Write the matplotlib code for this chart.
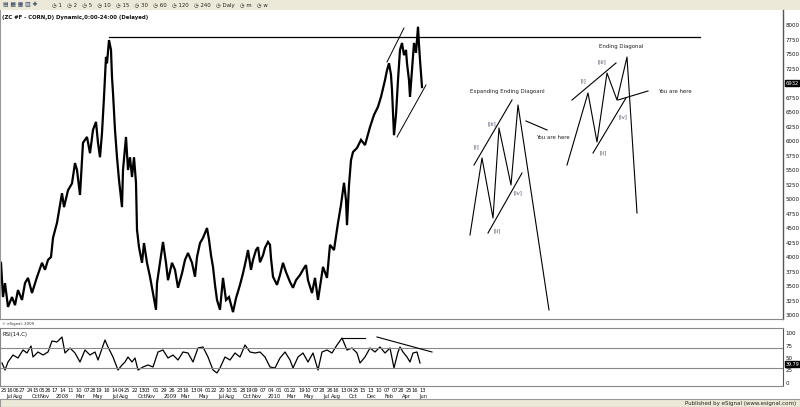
import matplotlib
matplotlib.use("Agg")
import matplotlib.pyplot as plt
import matplotlib.transforms as mtransforms
import pandas as pd

# ---- data (time index ~ bar position, price in eSignal points) ----
price_t = [1, 3, 5, 8, 12, 15, 18, 22, 25, 28, 32, 37, 42, 45, 48, 51, 53, 57, 62, 64,
           68, 72, 75, 77, 80, 83, 87, 90, 93, 96, 98, 100, 102, 104, 106, 107, 109, 111, 112, 113,
           115, 117, 119, 122, 123, 126, 128, 130, 132, 134, 136, 137, 139, 142, 144, 147, 150, 153, 156, 157,
           160, 163, 166, 168, 172, 175, 178, 182, 185, 188, 192, 195, 197, 200, 203, 207, 209, 211, 213, 215,
           217, 220, 223, 226, 229, 233, 236, 240, 243, 246, 248, 251, 253, 256, 258, 260, 263, 265, 268, 270,
           271, 273, 277, 280, 283, 286, 290, 293, 296, 300, 304, 306, 308, 312, 315, 318, 321, 323, 327, 330,
           334, 338, 341, 344, 346, 347, 349, 351, 353, 357, 361, 365, 370, 374, 378, 381, 385, 387, 389, 391,
           392, 394, 396, 398, 400, 402, 404, 406, 407, 409, 410, 412, 414, 416, 418, 419, 420, 422]
price_v = [3900, 3310, 3550, 3140, 3310, 3170, 3430, 3260, 3550, 3640, 3380, 3655, 3900, 3780, 3950, 4000, 4330, 4590, 5100, 4860,
           5150, 5270, 5620, 5500, 5070, 5970, 6070, 5790, 6190, 6330, 5970, 5720, 6140, 6760, 7450, 7340, 7740, 7570, 7100, 6830,
           6190, 5720, 5330, 4860, 5500, 6070, 5500, 5720, 5380, 5720, 5280, 4470, 4170, 3900, 4240, 3900, 3660, 3380, 3090, 3550,
           3900, 4260, 3900, 3600, 3900, 3780, 3470, 3720, 3950, 4070, 3900, 3660, 4000, 4240, 4330, 4500, 4300, 4030, 3830, 3520,
           3260, 3090, 3640, 3260, 3310, 3050, 3290, 3520, 3720, 3950, 4120, 3780, 3950, 4120, 4170, 3910, 4030, 4160, 4260, 4210,
           3980, 3660, 3520, 3690, 3900, 3740, 3570, 3470, 3600, 3690, 3810, 3860, 3600, 3380, 3640, 3260, 3600, 3830, 3640, 4210,
           4120, 4590, 4900, 5280, 4980, 4550, 5240, 5670, 5810, 5880, 6020, 5930, 6240, 6450, 6590, 6760, 7050, 7220, 7340, 7140,
           6880, 6100, 6450, 7050, 7570, 7690, 7480, 7570, 7340, 7050, 6760, 7220, 7690, 7520, 7970, 7660, 7400, 6930]

rsi_t = [2, 5, 8, 13, 18, 23, 27, 31, 33, 38, 43, 48, 52, 57, 62, 65, 70, 75, 80, 85,
         90, 95, 98, 105, 108, 113, 118, 122, 125, 128, 132, 135, 138, 143, 148, 153, 158, 163, 168, 173,
         178, 183, 188, 193, 198, 203, 208, 213, 217, 220, 225, 230, 235, 240, 245, 250, 255, 260, 265, 270,
         275, 280, 285, 290, 293, 298, 303, 308, 313, 318, 322, 327, 332, 337, 342, 347, 352, 357, 360, 365,
         370, 375, 380, 385, 390, 394, 398, 400, 403, 407, 410, 413, 417, 420]
rsi_v = [40, 26, 42, 56, 50, 66, 60, 74, 52, 62, 56, 62, 84, 82, 92, 60, 70, 60, 42, 66,
         56, 62, 46, 86, 72, 52, 26, 36, 42, 52, 42, 50, 26, 32, 36, 32, 62, 66, 50, 56,
         46, 62, 60, 42, 70, 72, 52, 26, 20, 30, 52, 46, 60, 52, 76, 62, 60, 62, 52, 32,
         30, 50, 62, 46, 30, 52, 60, 42, 60, 26, 62, 66, 60, 76, 90, 66, 70, 60, 40, 52,
         70, 62, 72, 60, 70, 30, 62, 72, 62, 52, 42, 60, 62, 40]

# hand drawn wave sketches (time index, price)
exp_t = [470, 482, 493, 499, 511, 518, 549]
exp_v = [4380, 5707, 4673, 6224, 5242, 6621, 3087]
end_t = [567, 588, 597, 607, 617, 627, 637]
end_v = [5586, 6828, 5983, 7172, 6707, 7448, 4759]

day_dates = ["2007-06-25", "2007-07-16", "2007-08-06", "2007-08-27", "2007-09-24", "2007-10-15", "2007-11-05",
             "2007-11-26", "2007-12-17", "2008-01-14", "2008-02-11", "2008-03-10", "2008-04-07", "2008-04-28",
             "2008-05-19", "2008-06-16", "2008-07-14", "2008-08-04", "2008-08-25", "2008-09-22", "2008-10-13",
             "2008-11-03", "2008-12-01", "2008-12-29", "2009-01-26", "2009-02-23", "2009-03-16", "2009-04-13",
             "2009-05-04", "2009-06-01", "2009-06-22", "2009-07-20", "2009-08-10", "2009-08-31", "2009-09-28",
             "2009-10-19", "2009-11-09", "2009-12-07", "2010-01-04", "2010-02-01", "2010-03-01", "2010-03-22",
             "2010-04-19", "2010-05-10", "2010-06-07", "2010-06-28", "2010-07-26", "2010-08-16", "2010-09-13",
             "2010-10-04", "2010-10-25", "2010-11-15", "2010-12-13", "2011-01-10", "2011-02-07", "2011-03-07",
             "2011-03-28", "2011-04-25", "2011-05-16", "2011-06-13"]
month_dates = ["2007-07-15", "2007-08-15", "2007-10-15", "2007-11-15", "2008-01-15", "2008-03-15", "2008-05-15",
               "2008-07-15", "2008-08-15", "2008-10-15", "2008-11-15", "2009-01-20", "2009-03-15", "2009-05-15",
               "2009-07-15", "2009-08-15", "2009-10-15", "2009-11-15", "2010-01-15", "2010-03-15", "2010-05-15",
               "2010-07-15", "2010-08-15", "2010-10-15", "2010-12-15", "2011-02-15", "2011-04-15", "2011-06-15"]
month_names = ["Jul", "Aug", "Oct", "Nov", "2008", "Mar", "May", "Jul", "Aug", "Oct", "Nov", "2009", "Mar", "May",
               "Jul", "Aug", "Oct", "Nov", "2010", "Mar", "May", "Jul", "Aug", "Oct", "Dec", "Feb", "Apr", "Jun"]


def date_pos(dates):
    # date -> time index (about 0.29 per calendar day)
    d = pd.to_datetime(dates)
    return 271 + (d - pd.Timestamp("2010-01-04")).days * 0.2895


def py2p(y):
    return 8000 - (y - 25) * 17.24


W, H = 800, 407
fig = plt.figure(figsize=(8, 4.07), dpi=100)
fig.patch.set_facecolor("white")
fs = 3.9
tk = 4.0

# toolbar
tb = fig.add_axes([0, 1 - 10 / H, 1, 10 / H])
tb.set_facecolor("#ece9d8")
tb.set_xticks([]); tb.set_yticks([])
for s in tb.spines.values():
    s.set_visible(False)
tb.text(0.004, 0.5, "▤ ▦ ▦ ▥ ✚", transform=tb.transAxes, fontsize=4.2, va="center", color="#334466")
tb.text(0.065, 0.5, "◷ 1   ◷ 2   ◷ 5   ◷ 10   ◷ 15   ◷ 30   ◷ 60   ◷ 120   ◷ 240   ◷ Daly   ◷ m   ◷ w",
        transform=tb.transAxes, fontsize=3.9, va="center", color="#222222")

# price panel
ax = fig.add_axes([0, 1 - 319 / H, 783 / W, 309 / H])
ax.set_xlim(0, 783)
ax.set_ylim(py2p(319), py2p(10))
ax.plot(price_t, price_v, color="black", lw=1.6, solid_joinstyle="miter")

# resistance and trend lines on price
ax.plot([109, 700], [7793, 7793], color="black", lw=0.9)
ax.plot([387, 404], [7362, 7948], color="black", lw=0.7)
ax.plot([397, 426], [6069, 6966], color="black", lw=0.7)

# expanding ending diagonal sketch
ax.plot(exp_t, exp_v, color="black", lw=0.8)
ax.plot([474, 512], [5586, 6707], color="black", lw=0.8)
ax.plot([488, 522], [4414, 5448], color="black", lw=0.8)
ax.plot([526, 547], [6345, 6190], color="black", lw=0.8)
ax.text(507, 6845, "Expanding Ending Diagoanl", fontsize=fs, ha="center", va="center", color="#222222")
ax.text(553, 6069, "You are here", fontsize=fs, ha="center", va="center", color="#222222")
lab_c = "#5a4a6a"
ax.text(476, 5897, "[i]", fontsize=fs, ha="center", va="center", color=lab_c)
ax.text(492, 6293, "[iii]", fontsize=fs, ha="center", va="center", color=lab_c)
ax.text(518, 5104, "[iv]", fontsize=fs, ha="center", va="center", color=lab_c)
ax.text(497, 4449, "[ii]", fontsize=fs, ha="center", va="center", color=lab_c)

# ending diagonal sketch
ax.plot(end_t, end_v, color="black", lw=0.8)
ax.plot([572, 616], [6707, 7345], color="black", lw=0.8)
ax.plot([593, 626], [5793, 6742], color="black", lw=0.8)
ax.plot([618, 648], [6707, 6862], color="black", lw=0.8)
ax.text(621, 7621, "Ending Diagonal", fontsize=fs, ha="center", va="center", color="#222222")
ax.text(658, 6862, "You are here", fontsize=fs, ha="left", va="center", color="#222222")
ax.text(583, 7034, "[i]", fontsize=fs, ha="center", va="center", color=lab_c)
ax.text(602, 7362, "[iii]", fontsize=fs, ha="center", va="center", color=lab_c)
ax.text(623, 6414, "[iv]", fontsize=fs, ha="center", va="center", color=lab_c)
ax.text(603, 5793, "[ii]", fontsize=fs, ha="center", va="center", color=lab_c)

ax.text(0.002, 0.985, "(ZC #F - CORN,D) Dynamic,0:00-24:00 (Delayed)", transform=ax.transAxes,
        fontsize=3.9, va="top", ha="left", color="#111111", fontweight="bold")

ax.yaxis.tick_right()
ax.set_yticks([v for v in range(3000, 8001, 250) if v != 7000])
ax.tick_params(axis="y", labelsize=tk, length=0, pad=2, colors="#111111")
ax.set_xticks([])
for k in ["top", "bottom"]:
    ax.spines[k].set_visible(False)
ax.spines["left"].set_color("#999999")
ax.spines["right"].set_color("#555555")
ax.spines["right"].set_linewidth(1.0)
ytr = mtransforms.blended_transform_factory(ax.transAxes, ax.transData)
ax.text(1.003, 7000, "6932", transform=ytr, fontsize=3.8, color="white", va="center", ha="left",
        bbox=dict(boxstyle="square,pad=0.1", fc="black", ec="black"))

# copyright strip
fig.text(2 / W, 1 - 324 / H, "© eSignal, 2009", fontsize=2.8, va="center", color="#333333")
fig.add_artist(plt.Line2D([0, 783 / W], [1 - 319 / H, 1 - 319 / H], color="#888888", lw=0.8))

# RSI panel
ax2 = fig.add_axes([0, 1 - 386 / H, 783 / W, 58 / H])
ax2.set_xlim(0, 783)
ax2.set_ylim(-6, 110)
ax2.plot(rsi_t, rsi_v, color="black", lw=0.9)
ax2.axhline(70, color="#888888", lw=0.8)
ax2.axhline(30, color="#888888", lw=0.8)
ax2.plot([343, 365], [90, 90], color="black", lw=0.8)
ax2.plot([377, 432], [92, 62], color="black", lw=0.8)
ax2.text(0.003, 0.93, "RSI(14,C)", transform=ax2.transAxes, fontsize=3.9, va="top", color="#111111")
ax2.yaxis.tick_right()
ax2.set_yticks([0, 25, 50, 75, 100])
ax2.tick_params(axis="y", labelsize=tk, length=0, pad=2, colors="#111111")
ax2.set_xticks([])
for k in ["top", "bottom", "left"]:
    ax2.spines[k].set_color("#888888")
ax2.spines["right"].set_color("#555555")
rtr = mtransforms.blended_transform_factory(ax2.transAxes, ax2.transData)
ax2.text(1.003, 38, "39.79", transform=rtr, fontsize=3.5, color="white", va="center", ha="left",
         bbox=dict(boxstyle="square,pad=0.05", fc="black", ec="black"))

# date axis labels
xtr = mtransforms.blended_transform_factory(ax2.transData, ax2.transAxes)
for x, d in zip(date_pos(day_dates), day_dates):
    ax2.text(x, -0.075, d[-2:], transform=xtr, fontsize=3.7, ha="center", va="center", color="#111111")
for x, m in zip(date_pos(month_dates), month_names):
    ax2.text(x, -0.18, m, transform=xtr, fontsize=3.7, ha="center", va="center", color="#111111")

# bottom status band
bb = fig.add_axes([0, 0, 1, 8 / H])
bb.set_facecolor("#ece9d8")
bb.set_xticks([]); bb.set_yticks([])
for s in bb.spines.values():
    s.set_color("#999999")
bb.text(0.995, 0.5, "Published by eSignal (www.esignal.com)", transform=bb.transAxes, fontsize=4.0,
        ha="right", va="center", color="#222222")

fig.savefig("out.png", dpi=100)
